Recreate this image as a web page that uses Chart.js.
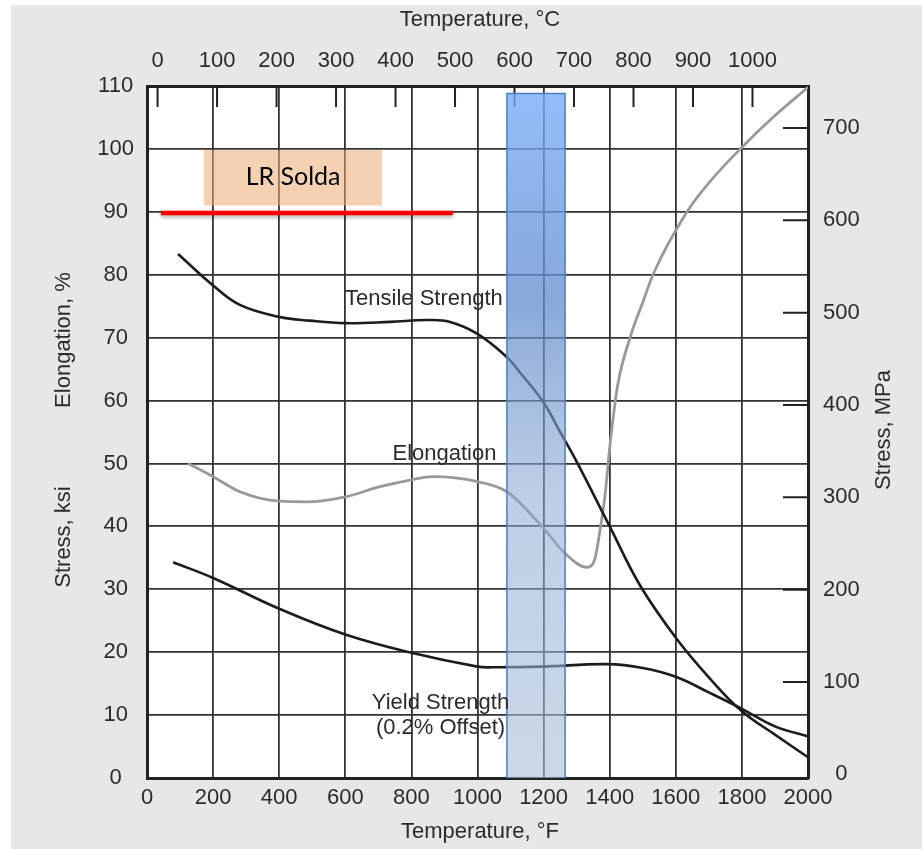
<!DOCTYPE html>
<html>
<head>
<meta charset="utf-8">
<title>Tensile, yield and elongation vs temperature</title>
<script src="https://cdn.jsdelivr.net/npm/chart.js@4.4.1/dist/chart.umd.min.js"></script>
<style>
    html, body { margin: 0; padding: 0; background: #fff; }
    #wrap { width: 922px; height: 849px; }
</style>
</head>
<body>
<div id="wrap"><canvas id="stressChart" width="922" height="849"></canvas></div>
<script>
'use strict';

// temperatures in °F, stress in ksi, elongation in %
var tensileTemp = [94, 200, 281, 400, 493, 600, 735, 847, 917, 1000, 1089, 1128, 1200, 1250, 1300, 1400, 1492, 1600, 1700, 1800, 1900, 2000];
var tensileKsi  = [83.3, 78.3, 75.2, 73.3, 72.7, 72.3, 72.5, 72.8, 72.5, 70.6, 66.9, 64.5, 59.7, 55.0, 50.3, 40.0, 30.6, 22.3, 16.0, 10.6, 6.9, 3.3];

var yieldTemp = [79, 200, 400, 600, 800, 1000, 1047, 1195, 1392, 1500, 1600, 1700, 1800, 1900, 2000];
var yieldKsi  = [34.3, 31.8, 26.9, 22.8, 19.9, 17.7, 17.6, 17.7, 18.1, 17.5, 16.1, 13.6, 11.0, 8.2, 6.6];

var elongTemp = [124, 200, 281, 400, 484, 600, 705, 800, 866, 1000, 1089, 1195, 1265, 1331, 1355, 1371, 1386, 1401, 1424, 1464, 1500, 1531, 1634, 1700, 1795, 1900, 2000];
var elongPct  = [50.0, 47.9, 45.5, 44.0, 43.9, 44.7, 46.3, 47.4, 47.9, 47.1, 45.5, 40.0, 35.7, 33.5, 34.8, 39.5, 45.0, 53.0, 62.4, 70.4, 75.6, 80.0, 90.0, 94.6, 100.0, 105.3, 109.8];

// red "LR Solda" limit line and the blue highlighted temperature band
var limitTemp = [42, 925];
var limitKsi  = [89.8, 89.8];
var bandTemp  = [1089, 1089, 1265, 1265];
var bandKsi   = [0, 108.8, 108.8, 0];

var celsiusTicks = [0, 100, 200, 300, 400, 500, 600, 700, 800, 900, 1000];
var mpaTicks = [0, 100, 200, 300, 400, 500, 600, 700];
var mpaMin = -4;
var mpaMax = 745.5;

var ink = '#2b2b2b';
var tickFont = { family: '"Liberation Sans", Arial, sans-serif', size: 22 };

function pts(xs, ys) {
    return xs.map(function (x, i) { return { x: x, y: ys[i] }; });
}

function setTicks(values) {
    return function (scale) {
        scale.ticks = values.map(function (v) { return { value: v }; });
    };
}

function plain(v) { return String(v); }

function bandFill(context) {
    var chart = context.chart;
    if (!chart.chartArea) { return 'rgba(150,180,220,0.6)'; }
    var y = chart.scales.y;
    var g = chart.ctx.createLinearGradient(0, y.getPixelForValue(bandKsi[1]), 0, y.getPixelForValue(0));
    g.addColorStop(0, 'rgba(120,172,248,0.80)');
    g.addColorStop(0.3, 'rgba(96,140,205,0.75)');
    g.addColorStop(0.6, 'rgba(140,168,208,0.55)');
    g.addColorStop(1, 'rgba(168,190,218,0.60)');
    return g;
}

var decor = {
    id: 'decor',
    beforeDraw: function (chart) {
        var ctx = chart.ctx, a = chart.chartArea;
        ctx.save();
        ctx.fillStyle = '#ffffff';
        ctx.fillRect(0, 0, chart.width, chart.height);
        ctx.fillStyle = '#e6e7e8';
        ctx.fillRect(11, 5, chart.width - 11, chart.height - 5);
        ctx.fillStyle = '#ffffff';
        ctx.fillRect(a.left, a.top, a.right - a.left, a.bottom - a.top);
        ctx.restore();
    },
    beforeDatasetsDraw: function (chart) {
        var ctx = chart.ctx, a = chart.chartArea;
        var x = chart.scales.x, y = chart.scales.y, xC = chart.scales.xC, yR = chart.scales.yR;
        ctx.save();
        // inward ticks of the °C and MPa axes
        ctx.strokeStyle = '#222';
        ctx.lineWidth = 2;
        ctx.beginPath();
        celsiusTicks.forEach(function (c) {
            var px = xC.getPixelForValue(c);
            ctx.moveTo(px, a.top);
            ctx.lineTo(px, a.top + 21);
        });
        mpaTicks.slice(1).forEach(function (m) {
            var py = yR.getPixelForValue(m);
            ctx.moveTo(a.right, py);
            ctx.lineTo(a.right - 25, py);
        });
        ctx.stroke();
        // LR Solda box
        var x1 = x.getPixelForValue(172), x2 = x.getPixelForValue(711);
        var y1 = y.getPixelForValue(99.8), y2 = y.getPixelForValue(91.0);
        ctx.fillStyle = 'rgba(237,172,118,0.55)';
        ctx.fillRect(x1, y1, x2 - x1, y2 - y1);
        ctx.restore();
    },
    beforeDatasetDraw: function (chart, args) {
        // soft shadow under the red limit line only
        if (args.meta.label !== 'LR Solda') { return; }
        var ctx = chart.ctx;
        ctx.save();
        ctx.shadowColor = 'rgba(0,0,0,0.35)';
        ctx.shadowBlur = 4;
        ctx.shadowOffsetY = 2;
    },
    afterDatasetDraw: function (chart, args) {
        if (args.meta.label !== 'LR Solda') { return; }
        chart.ctx.restore();
    },
    afterDatasetsDraw: function (chart) {
        var ctx = chart.ctx;
        var x = chart.scales.x, y = chart.scales.y;
        ctx.save();
        ctx.fillStyle = ink;
        ctx.font = '22px "Liberation Sans", Arial, sans-serif';
        ctx.textAlign = 'center';
        ctx.textBaseline = 'alphabetic';
        ctx.fillText('Tensile Strength', x.getPixelForValue(838), y.getPixelForValue(75.2));
        ctx.fillText('Elongation', x.getPixelForValue(900), y.getPixelForValue(50.5));
        ctx.fillText('Yield Strength', x.getPixelForValue(888), y.getPixelForValue(11.0));
        ctx.fillText('(0.2% Offset)', x.getPixelForValue(888), y.getPixelForValue(7.0));

        ctx.fillStyle = '#000';
        ctx.font = '25px Lato, "Open Sans", sans-serif';
        ctx.textBaseline = 'middle';
        ctx.fillText('LR Solda', x.getPixelForValue(442), y.getPixelForValue(95.6));

        // axis titles
        ctx.fillStyle = ink;
        ctx.font = '22px "Liberation Sans", Arial, sans-serif';
        ctx.fillText('Temperature, \u00B0C', 480, 20);
        ctx.fillText('Temperature, \u00B0F', 480, 832);
        var rot = [['Elongation, %', 64, 340], ['Stress, ksi', 64, 537], ['Stress, MPa', 884, 430]];
        rot.forEach(function (r) {
            ctx.save();
            ctx.translate(r[1], r[2]);
            ctx.rotate(-Math.PI / 2);
            ctx.fillText(r[0], 0, 0);
            ctx.restore();
        });
        ctx.restore();
    }
};

var chart = new Chart(document.getElementById('stressChart'), {
    type: 'line',
    data: {
        datasets: [
            {
                label: 'Band',
                data: pts(bandTemp, bandKsi),
                borderColor: '#4a7fc0',
                borderWidth: 1.5,
                backgroundColor: bandFill,
                fill: 'origin',
                tension: 0
            },
            {
                label: 'Tensile Strength',
                data: pts(tensileTemp, tensileKsi),
                borderColor: '#1c1c1c',
                borderWidth: 2.6,
                tension: 0.4,
                fill: false
            },
            {
                label: 'Yield Strength (0.2% Offset)',
                data: pts(yieldTemp, yieldKsi),
                borderColor: '#1c1c1c',
                borderWidth: 2.6,
                tension: 0.4,
                fill: false
            },
            {
                label: 'Elongation',
                data: pts(elongTemp, elongPct),
                borderColor: '#999999',
                borderWidth: 2.8,
                cubicInterpolationMode: 'monotone',
                fill: false
            },
            {
                label: 'LR Solda',
                data: pts(limitTemp, limitKsi),
                borderColor: '#ff0000',
                borderWidth: 4.5,
                fill: false
            }
        ]
    },
    options: {
        responsive: false,
        animation: false,
        devicePixelRatio: 1,
        layout: { padding: 0 },
        elements: { point: { radius: 0, hoverRadius: 0 } },
        plugins: { legend: { display: false }, tooltip: { enabled: false } },
        scales: {
            x: {
                type: 'linear', position: 'bottom', min: 0, max: 2000,
                ticks: { stepSize: 200, padding: 7, color: ink, font: tickFont, maxRotation: 0, autoSkip: false, callback: plain },
                grid: { color: '#333', lineWidth: 1.8, drawTicks: false },
                border: { color: '#222', width: 3 },
                afterFit: function (s) { s.height = 71; }
            },
            xC: {
                type: 'linear', position: 'top', min: -32 / 1.8, max: (2000 - 32) / 1.8,
                afterBuildTicks: setTicks(celsiusTicks),
                ticks: { padding: 12, color: ink, font: tickFont, maxRotation: 0, autoSkip: false, callback: plain },
                grid: { display: false, drawTicks: false },
                border: { color: '#222', width: 3 },
                afterFit: function (s) { s.height = 86; }
            },
            y: {
                type: 'linear', position: 'left', min: 0, max: 110,
                ticks: { stepSize: 10, padding: 13, crossAlign: 'center', color: ink, font: tickFont, callback: plain },
                grid: { color: '#333', lineWidth: 1.8, drawTicks: false },
                border: { color: '#222', width: 3 },
                afterFit: function (s) { s.width = 147; }
            },
            yR: {
                type: 'linear', position: 'right', min: mpaMin, max: mpaMax,
                afterBuildTicks: setTicks(mpaTicks),
                ticks: { padding: 15, crossAlign: 'center', color: ink, font: tickFont, callback: plain },
                grid: { display: false, drawTicks: false },
                border: { color: '#222', width: 3 },
                afterFit: function (s) { s.width = 114; }
            }
        }
    },
    plugins: [decor]
});
</script>
</body>
</html>
